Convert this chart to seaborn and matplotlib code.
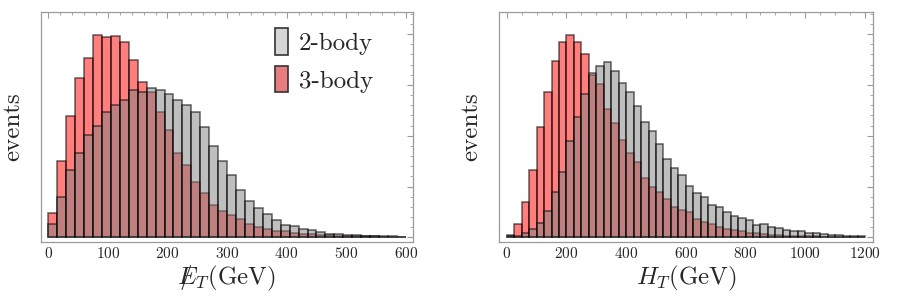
import numpy as np
import pandas as pd
import matplotlib
matplotlib.use("Agg")
import matplotlib.pyplot as plt
from matplotlib.patches import Patch
from matplotlib.ticker import MultipleLocator
import seaborn as sns

# missing E_T histogram, 15 GeV bins (arbitrary units)
met_edges = list(range(0, 601, 15))
met_2body = [39, 121, 202, 253, 306, 334, 376, 396, 411, 441, 437, 447, 441, 429, 413, 398,
             375, 330, 273, 230, 187, 143, 110, 87, 69, 52, 36, 33, 25, 21, 15, 11,
             11, 8, 6, 5, 4, 3, 3, 2]
met_3body = [74, 228, 364, 478, 538, 607, 602, 605, 586, 533, 465, 436, 375, 321, 253, 216,
             166, 134, 96, 78, 66, 54, 39, 31, 25, 20, 19, 14, 11, 9, 7, 6,
             5, 5, 4, 3, 3, 2, 2, 1]

# H_T histogram, 25 GeV bins
ht_edges = list(range(0, 1201, 25))
ht_2body = [3, 5, 12, 24, 42, 79, 136, 196, 288, 361, 430, 493, 515, 527, 499, 462,
            435, 393, 345, 318, 281, 234, 209, 187, 154, 132, 120, 98, 90, 77, 63, 57,
            52, 36, 40, 30, 27, 22, 18, 19, 14, 13, 9, 7, 6, 5, 5, 5]
ht_3body = [8, 39, 107, 201, 330, 436, 529, 586, 607, 586, 549, 487, 459, 384, 343, 292,
            254, 225, 177, 152, 135, 115, 92, 81, 75, 54, 45, 41, 31, 25, 21, 19,
            14, 12, 10, 8, 7, 5, 4, 4, 3, 3, 2, 2, 1, 1, 1, 1]

sns.set_style("white")
plt.rcParams["font.family"] = ["cmr10", "DejaVu Serif"]
plt.rcParams["mathtext.fontset"] = "cm"
plt.rcParams["axes.formatter.use_mathtext"] = True

RED = (1, 0, 0, 0.5)
GREY = (0.5, 0.5, 0.5, 0.5)
EDGE = (0, 0, 0, 0.6)
FRAME = "#9a9a9a"

fig = plt.figure(figsize=(9, 3), dpi=100)
ax1 = fig.add_axes([0.0452, 0.193, 0.4137, 0.767])
ax2 = fig.add_axes([0.5548, 0.193, 0.4149, 0.767])


def draw(ax, edges, two, three, xlim, major, minor, xlabel):
    e = np.array(edges, dtype=float)
    df = pd.DataFrame({"x": (e[:-1] + e[1:]) / 2, "two": two, "three": three})
    sns.histplot(data=df, x="x", weights="three", bins=edges, ax=ax, element="bars",
                 facecolor=RED, edgecolor=EDGE, linewidth=1.1)
    sns.histplot(data=df, x="x", weights="two", bins=edges, ax=ax, element="bars",
                 facecolor=GREY, edgecolor=EDGE, linewidth=1.1)
    ax.set_xlim(*xlim)
    ax.set_ylim(-14, 676)
    ax.xaxis.set_major_locator(MultipleLocator(major))
    ax.xaxis.set_minor_locator(MultipleLocator(minor))
    ax.yaxis.set_major_locator(MultipleLocator(152.5))
    ax.yaxis.set_minor_locator(MultipleLocator(30.5))
    ax.tick_params(which="both", direction="in", top=True, right=True,
                   color=FRAME, labelleft=False, labelsize=11, pad=3)
    ax.tick_params(which="major", length=4.5, width=0.8)
    ax.tick_params(which="minor", length=2.5, width=0.6)
    for s in ax.spines.values():
        s.set_color(FRAME)
        s.set_linewidth(0.9)
    ax.set_xlabel(xlabel, fontsize=18, labelpad=2)
    ax.set_ylabel("events", fontsize=18, labelpad=12)


draw(ax1, met_edges, met_2body, met_3body, (-12.8, 612), 100, 20,
     r"$/\!\!\!\!E_T$(GeV)")
draw(ax2, ht_edges, ht_2body, ht_3body, (-25, 1226), 200, 50,
     r"$H_T$(GeV)")

handles = [Patch(facecolor="#d6d6d6", edgecolor="#333333", linewidth=1.2, label="2-body"),
           Patch(facecolor="#e87d80", edgecolor="#333333", linewidth=1.2, label="3-body")]
ax1.legend(handles=handles, loc="upper left", bbox_to_anchor=(0.63, 0.93),
           frameon=False, fontsize=18, handlelength=0.5, handleheight=1.25,
           handletextpad=0.45, labelspacing=0.45, borderpad=0, borderaxespad=0)

fig.savefig("out.png", dpi=100)
